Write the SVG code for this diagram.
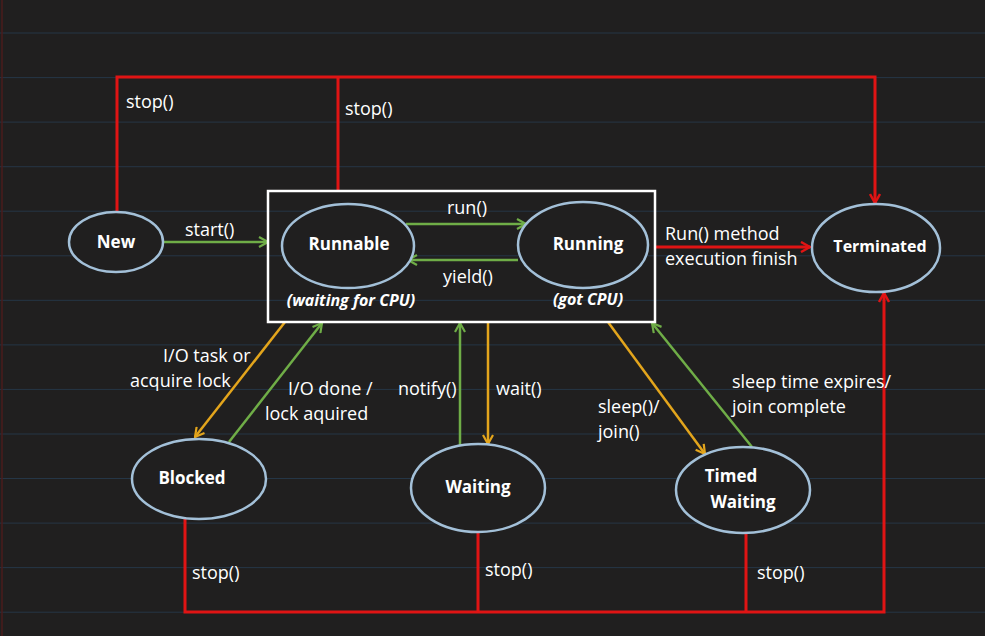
<svg xmlns="http://www.w3.org/2000/svg" width="985" height="636" viewBox="0 0 985 636">
<style>
.bg{fill:#201f1f}
.rule{stroke:#253646;stroke-width:1}
.node{fill:#201f1f;stroke:#a3c0d8;stroke-width:2.5}
.nl{font-family:"Open Sans","Liberation Sans",sans-serif;font-weight:bold;font-size:17px;fill:#ffffff;text-anchor:middle}
.lbl{font-family:"Open Sans","Liberation Sans",sans-serif;font-size:18px;fill:#ffffff}
.sub{font-family:"Open Sans","Liberation Sans",sans-serif;font-weight:bold;font-style:italic;font-size:16px;fill:#ffffff;text-anchor:middle}
.red{stroke:#e01414;stroke-width:3;fill:none}
.grn{stroke:#6fad47;stroke-width:2.5;fill:none}
.org{stroke:#e3a51c;stroke-width:2.5;fill:none}
</style>
<defs>
<marker id="aR" viewBox="0 0 12 12" refX="11" refY="6" markerWidth="12" markerHeight="12" markerUnits="userSpaceOnUse" orient="auto"><polyline points="2,1 11,6 2,11" fill="none" stroke="#e01414" stroke-width="2.5"/></marker>
<marker id="aG" viewBox="0 0 12 12" refX="11" refY="6" markerWidth="12" markerHeight="12" markerUnits="userSpaceOnUse" orient="auto"><polyline points="2,1 11,6 2,11" fill="none" stroke="#6fad47" stroke-width="2.2"/></marker>
<marker id="aO" viewBox="0 0 12 12" refX="11" refY="6" markerWidth="12" markerHeight="12" markerUnits="userSpaceOnUse" orient="auto"><polyline points="2,1 11,6 2,11" fill="none" stroke="#e3a51c" stroke-width="2.2"/></marker>
</defs>
<rect class="bg" x="0" y="0" width="985" height="636"/>
<g id="rules">
<line class="rule" x1="0" y1="33" x2="985" y2="33"/>
<line class="rule" x1="0" y1="77.6" x2="985" y2="77.6"/>
<line class="rule" x1="0" y1="122.1" x2="985" y2="122.1"/>
<line class="rule" x1="0" y1="166.7" x2="985" y2="166.7"/>
<line class="rule" x1="0" y1="211.2" x2="985" y2="211.2"/>
<line class="rule" x1="0" y1="255.8" x2="985" y2="255.8"/>
<line class="rule" x1="0" y1="300.3" x2="985" y2="300.3"/>
<line class="rule" x1="0" y1="344.9" x2="985" y2="344.9"/>
<line class="rule" x1="0" y1="389.4" x2="985" y2="389.4"/>
<line class="rule" x1="0" y1="434" x2="985" y2="434"/>
<line class="rule" x1="0" y1="478.5" x2="985" y2="478.5"/>
<line class="rule" x1="0" y1="523.1" x2="985" y2="523.1"/>
<line class="rule" x1="0" y1="567.6" x2="985" y2="567.6"/>
<line class="rule" x1="0" y1="612.2" x2="985" y2="612.2"/>
<line x1="2" y1="0" x2="2" y2="636" stroke="#4a1c1c" stroke-width="1.5"/>
</g>
<g id="connectors">
<polyline class="red" points="117,212 117,77 875,77 875,203" marker-end="url(#aR)"/>
<line class="red" x1="338" y1="77" x2="338" y2="191"/>
<line class="red" x1="655" y1="247" x2="810" y2="247" marker-end="url(#aR)"/>
<polyline class="red" points="185,516 185,612 884,612 884,293" marker-end="url(#aR)"/>
<line class="red" x1="478" y1="532" x2="478" y2="612"/>
<line class="red" x1="746" y1="533" x2="746" y2="612"/>
<line class="grn" x1="164" y1="242" x2="268" y2="242" marker-end="url(#aG)"/>
<line class="grn" x1="406" y1="224" x2="526" y2="224" marker-end="url(#aG)"/>
<line class="grn" x1="518" y1="260" x2="408" y2="260" marker-end="url(#aG)"/>
<line class="org" x1="285" y1="322" x2="195" y2="437" marker-end="url(#aO)"/>
<line class="grn" x1="229" y1="442" x2="322" y2="323" marker-end="url(#aG)"/>
<line class="grn" x1="460" y1="445" x2="460" y2="323" marker-end="url(#aG)"/>
<line class="org" x1="488" y1="322" x2="488" y2="444" marker-end="url(#aO)"/>
<line class="org" x1="608" y1="322" x2="705" y2="454" marker-end="url(#aO)"/>
<line class="grn" x1="752" y1="447" x2="652" y2="323" marker-end="url(#aG)"/>
</g>
<g id="labels">
<text class="lbl" x="126" y="108">stop()</text>
<text class="lbl" x="345" y="115">stop()</text>
<text class="lbl" x="185" y="236">start()</text>
<text class="lbl" x="467" y="214" text-anchor="middle">run()</text>
<text class="lbl" x="468" y="283" text-anchor="middle">yield()</text>
<text class="lbl" x="665" y="240">Run() method</text>
<text class="lbl" x="665" y="265">execution finish</text>
<text class="lbl" x="163" y="362">I/O task or</text>
<text class="lbl" x="130" y="387">acquire lock</text>
<text class="lbl" x="288" y="395">I/O done /</text>
<text class="lbl" x="265" y="420">lock aquired</text>
<text class="lbl" x="398" y="395">notify()</text>
<text class="lbl" x="496" y="395">wait()</text>
<text class="lbl" x="598" y="413">sleep()/</text>
<text class="lbl" x="598" y="438">join()</text>
<text class="lbl" x="732" y="388">sleep time expires/</text>
<text class="lbl" x="732" y="413">join complete</text>
<text class="lbl" x="192" y="579">stop()</text>
<text class="lbl" x="485" y="576">stop()</text>
<text class="lbl" x="757" y="579">stop()</text>
</g>
<g id="runnable-box"><rect x="268" y="191" width="387" height="131" fill="none" stroke="#ffffff" stroke-width="2.5"/></g>
<g id="new"><ellipse class="node" cx="116" cy="242" rx="47" ry="30"/><text class="nl" x="116" y="248">New</text></g>
<g id="runnable"><ellipse class="node" cx="348" cy="246" rx="66" ry="42"/><text class="nl" x="349" y="250">Runnable</text><text class="sub" x="351" y="306">(waiting for CPU)</text></g>
<g id="running"><ellipse class="node" cx="583" cy="245" rx="65" ry="43"/><text class="nl" x="588" y="250">Running</text><text class="sub" x="588" y="305">(got CPU)</text></g>
<g id="terminated"><ellipse class="node" cx="876" cy="248" rx="64" ry="44"/><text class="nl" x="880" y="252" style="font-size:16px">Terminated</text></g>
<g id="blocked"><ellipse class="node" cx="199" cy="479" rx="67" ry="40"/><text class="nl" x="192" y="484">Blocked</text></g>
<g id="waiting"><ellipse class="node" cx="478" cy="488" rx="67" ry="44"/><text class="nl" x="478" y="493">Waiting</text></g>
<g id="timed-waiting"><ellipse class="node" cx="743" cy="490" rx="67" ry="43"/><text class="nl" x="731" y="482">Timed</text><text class="nl" x="743" y="508">Waiting</text></g>
</svg>
